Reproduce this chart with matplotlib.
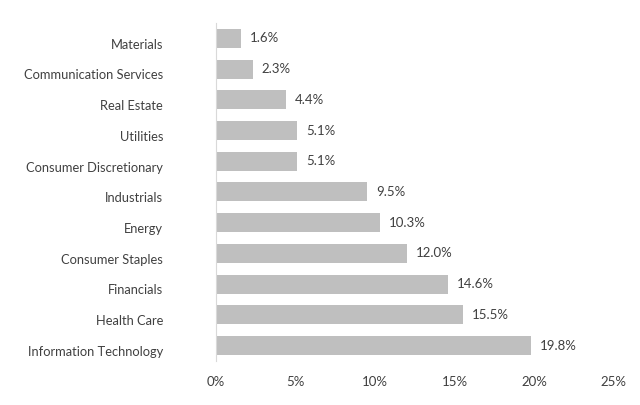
import matplotlib
matplotlib.use("Agg")
import matplotlib.pyplot as plt
import matplotlib.transforms as mtransforms
from matplotlib.ticker import FuncFormatter

categories = ["Materials", "Communication Services", "Real Estate", "Utilities",
              "Consumer Discretionary", "Industrials", "Energy", "Consumer Staples",
              "Financials", "Health Care", "Information Technology"]
values = [1.6, 2.3, 4.4, 5.1, 5.1, 9.5, 10.3, 12.0, 14.6, 15.5, 19.8]
xticks = [0, 5, 10, 15, 20, 25]

plt.rcParams['font.family'] = ['Lato', 'DejaVu Sans']
text_color = "#404040"

fig = plt.figure(figsize=(6.4, 4.05), dpi=100)
ax = fig.add_axes([0.3375, 0.109, 0.959 - 0.3375, 0.943 - 0.109])

n = len(categories)
ypos = list(range(n))[::-1]
ax.barh(ypos, values, height=0.62, color="#BFBFBF", zorder=2)
for y, v in zip(ypos, values):
    ax.text(v + 0.55, y, f"{v:.1f}%", va="center", ha="left", fontsize=9.5, color=text_color)

ax.set_yticks(ypos)
ax.set_yticklabels([])
base = mtransforms.blended_transform_factory(ax.transAxes, ax.transData)
offset = mtransforms.ScaledTranslation(-38 / 72, -4.5 / 72, fig.dpi_scale_trans)
for y, c in zip(ypos, categories):
    ax.text(0, y, c, transform=base + offset, ha="right", va="center",
            fontsize=9.3, color=text_color)

ax.set_xticks(xticks)
ax.xaxis.set_major_formatter(FuncFormatter(lambda x, p: f"{x:.0f}%"))
ax.tick_params(axis='x', labelsize=9.5, labelcolor=text_color, length=0, pad=11)
ax.tick_params(axis='y', length=0)
ax.set_xlim(0, 25)
ax.set_ylim(-0.5, n - 0.5)
for s in ["top", "right", "bottom"]:
    ax.spines[s].set_visible(False)
ax.spines["left"].set_color("#D9D9D9")
ax.spines["left"].set_linewidth(0.8)

fig.savefig("out.png", dpi=100)
